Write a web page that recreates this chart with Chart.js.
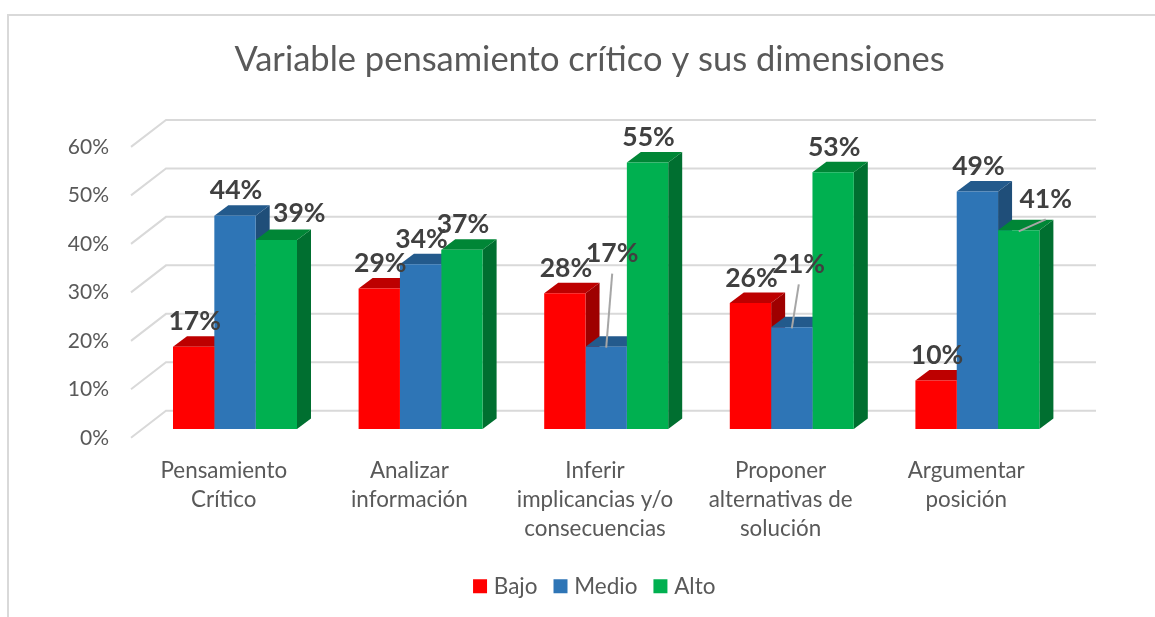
<!DOCTYPE html>
<html><head><meta charset="utf-8">
<style>html,body{margin:0;padding:0;background:#fff;overflow:hidden}
#wrap{position:relative;width:1155px;height:617px}
canvas{display:block}</style>
<script src="https://cdn.jsdelivr.net/npm/chart.js@4"></script>
</head><body><div id="wrap"><canvas id="c" width="1155" height="617"></canvas></div>
<script>
const chartTitle = 'Variable pensamiento crítico y sus dimensiones';
const categories = [['Pensamiento','Crítico'],['Analizar','información'],['Inferir','implicancias y/o','consecuencias'],['Proponer','alternativas de','solución'],['Argumentar','posición']];
const bajo  = [17,29,28,26,10];
const medio = [44,34,17,21,49];
const alto  = [39,37,55,53,41];
const yTicks = [0,10,20,30,40,50,60];

const FONT = 'Lato, Carlito, sans-serif';
const DEPTH_X = 14, DEPTH_Y = 10.5;       // bar depth
const WALL_X = 35, WALL_Y = 27, WALL_END = 37;  // floor/wall depth
const SHIFT_X = 11.2, SHIFT_Y = -8.7;     // bars stand mid-floor
const faces = [
  {front:'#ff0000', top:'#bd0000', side:'#9e0000'},
  {front:'#2e75b6', top:'#235a8c', side:'#1f4e79'},
  {front:'#00b050', top:'#008636', side:'#006f30'}
];
// label offsets for the moved labels: [dataset, category, dx, dy, leader?]
const moved = [
  [2,0,22,-2,false],
  [1,2,5,-68,true],
  [1,3,6,-38,true],
  [2,4,26,-6,true]
];

const depthPlugin = {
  id:'depth',
  afterLayout(chart){
    chart.legend.left += 7; chart.legend.right += 7;
  },
  beforeDatasetsDraw(chart){
    const ctx = chart.ctx, y = chart.scales.y, a = chart.chartArea;
    ctx.save();
    ctx.strokeStyle = '#d9d9d9'; ctx.lineWidth = 2;
    yTicks.forEach(v=>{
      const py = y.getPixelForValue(v);
      ctx.beginPath();
      ctx.moveTo(a.left, py);
      ctx.lineTo(a.left+WALL_X, py-WALL_Y);
      ctx.lineTo(a.right+WALL_END, py-WALL_Y);
      ctx.stroke();
    });
    ctx.translate(SHIFT_X, SHIFT_Y);
    const n = chart.data.labels.length;
    for(let i=0;i<n;i++){
      chart.data.datasets.forEach((ds,d)=>{
        const b = chart.getDatasetMeta(d).data[i];
        const l = b.x-b.width/2, r = b.x+b.width/2, t = b.y, bt = b.base;
        ctx.fillStyle = faces[d].side;
        ctx.beginPath();
        ctx.moveTo(r,t);ctx.lineTo(r+DEPTH_X,t-DEPTH_Y);ctx.lineTo(r+DEPTH_X,bt-DEPTH_Y);ctx.lineTo(r,bt);ctx.closePath();ctx.fill();
        ctx.fillStyle = faces[d].top;
        ctx.beginPath();
        ctx.moveTo(l,t);ctx.lineTo(l+DEPTH_X,t-DEPTH_Y);ctx.lineTo(r+DEPTH_X,t-DEPTH_Y);ctx.lineTo(r,t);ctx.closePath();ctx.fill();
      });
    }
    // library bars (front faces) are drawn in the same shifted space
  },
  afterDatasetsDraw(chart){
    const ctx = chart.ctx;
    ctx.restore();
    ctx.save();
    ctx.font = 'bold 26.5px '+FONT;
    ctx.textAlign='center'; ctx.textBaseline='middle';
    chart.data.datasets.forEach((ds,d)=>{
      chart.getDatasetMeta(d).data.forEach((b,i)=>{
        const m = moved.find(q=>q[0]===d&&q[1]===i);
        const fx = b.x+SHIFT_X, fy = b.y+SHIFT_Y;
        const lx = fx+(m?m[2]:0)+1, ly = fy-25+(m?m[3]:0);
        if(m&&m[4]){
          ctx.strokeStyle='#a6a6a6';ctx.lineWidth=2;
          ctx.beginPath();
          ctx.moveTo(lx,ly+20);ctx.lineTo(fx,fy+1);
          ctx.stroke();
        }
        ctx.fillStyle='#404040';
        ctx.fillText(ds.data[i]+'%',lx,ly);
      });
    });
    ctx.restore();
  }
};

const framePlugin = {
  id:'frame',
  beforeDraw(chart){
    const ctx=chart.ctx;
    ctx.save();ctx.strokeStyle='#d9d9d9';ctx.lineWidth=2;
    ctx.beginPath();ctx.moveTo(8,617);ctx.lineTo(8,15);ctx.lineTo(1155,15);ctx.stroke();
    ctx.restore();
  }
};

new Chart(document.getElementById('c'),{
  type:'bar',
  data:{labels:categories,datasets:[
    {label:'Bajo',data:bajo,backgroundColor:faces[0].front},
    {label:'Medio',data:medio,backgroundColor:faces[1].front},
    {label:'Alto',data:alto,backgroundColor:faces[2].front}
  ]},
  plugins:[framePlugin,depthPlugin],
  options:{
    responsive:false,animation:false,
    layout:{padding:{left:24,right:0,top:0,bottom:9.5}},
    datasets:{bar:{barPercentage:1,categoryPercentage:124/185.6}},
    plugins:{
      tooltip:{enabled:false},
      title:{display:true,text:chartTitle,color:'#595959',font:{family:FONT,size:34.5,weight:'normal',lineHeight:1.2},padding:{top:39.5,bottom:66}},
      legend:{position:'bottom',labels:{
        font:{family:FONT,size:22.5},color:'#595959',boxWidth:5,boxHeight:5,padding:20.5,
        generateLabels(chart){
          return chart.data.datasets.map((ds,i)=>({text:ds.label,fillStyle:faces[i].front,strokeStyle:faces[i].front,lineWidth:9,datasetIndex:i,fontColor:'#595959'}));
        }
      }}
    },
    scales:{
      x:{grid:{display:false,drawTicks:false},border:{display:false},
        ticks:{color:'#595959',font:{family:FONT,size:22.4,lineHeight:1.3},padding:18,maxRotation:0,minRotation:0,autoSkip:false},
        afterFit(s){s.height=116.7;}},
      y:{min:0,max:60,grid:{display:false,drawTicks:false},border:{display:false},
        afterBuildTicks(s){s.ticks=yTicks.map(v=>({value:v}));},
        ticks:{color:'#595959',font:{family:FONT,size:21},padding:22,callback:v=>v+'%'},
        afterFit(s){s.width=107;}},
      r:{position:'right',display:true,grid:{display:false,drawTicks:false},border:{display:false},ticks:{display:false},afterFit(s){s.width=96;}}
    }
  }
});
</script></body></html>
